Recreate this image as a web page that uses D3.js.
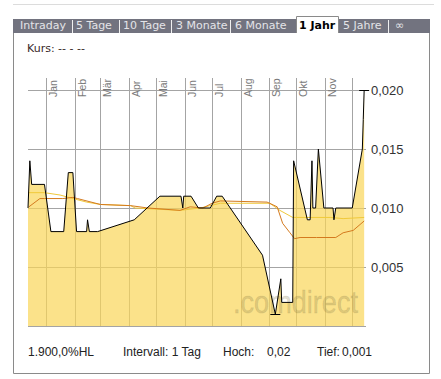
<!DOCTYPE html>
<html><head><meta charset="utf-8">
<script src="https://cdn.jsdelivr.net/npm/d3@7"></script>
<style>body{margin:0;background:#fff}svg{display:block}</style>
</head><body>
<svg id="c" width="441" height="379"></svg>
<script>
// ---- data ----
const tabLabels = ["Intraday","5 Tage","10 Tage","3 Monate","6 Monate","1 Jahr","5 Jahre","\u221E"];
const selectedTab = "1 Jahr";
const monthLabels = ["Jan","Feb","M\u00E4r","Apr","Mai","Jun","Jul","Aug","Sep","Okt","Nov",""];
const yTicks = [0.005, 0.010, 0.015, 0.020];
const dateDomain = ["2006-12-12","2007-12-16"];
const priceDates = ["2006-12-12","2006-12-14","2006-12-16","2006-12-30","2007-01-06","2007-01-20","2007-01-25","2007-01-30","2007-02-03","2007-02-14","2007-02-15","2007-02-17","2007-02-26","2007-04-07","2007-05-05","2007-05-28","2007-05-30","2007-05-31","2007-06-08","2007-06-16","2007-06-29","2007-07-06","2007-07-12","2007-08-25","2007-09-08","2007-09-14","2007-09-15","2007-09-27","2007-09-28","2007-10-13","2007-10-16","2007-10-18","2007-10-19","2007-10-22","2007-10-25","2007-10-31","2007-11-10","2007-11-11","2007-11-13","2007-12-01","2007-12-12","2007-12-13","2007-12-14"];
const priceValues = [0.010,0.014,0.012,0.012,0.008,0.008,0.013,0.013,0.008,0.008,0.009,0.008,0.008,0.009,0.011,0.011,0.010,0.011,0.011,0.010,0.010,0.011,0.011,0.006,0.001,0.004,0.002,0.002,0.014,0.009,0.009,0.014,0.010,0.010,0.015,0.010,0.010,0.009,0.010,0.010,0.015,0.0175,0.020];
const maLongDates = ["2006-12-12","2006-12-30","2007-01-16","2007-01-30","2007-02-14","2007-03-01","2007-04-03","2007-04-08","2007-05-27","2007-06-18","2007-07-10","2007-09-02","2007-09-13","2007-09-27","2007-11-07","2007-11-21","2007-12-14"];
const maLongValues = [0.0113,0.0113,0.0111,0.0108,0.0105,0.0103,0.0102,0.0100,0.0098,0.0100,0.0104,0.0104,0.0098,0.0092,0.0092,0.0091,0.0092];
const maShortDates = ["2006-12-13","2006-12-25","2006-12-30","2007-01-19","2007-01-30","2007-02-04","2007-03-01","2007-04-03","2007-04-22","2007-05-27","2007-06-07","2007-06-21","2007-07-01","2007-07-10","2007-08-30","2007-09-10","2007-09-16","2007-09-24","2007-09-29","2007-10-05","2007-10-23","2007-11-13","2007-11-21","2007-12-02","2007-12-14"];
const maShortValues = [0.0101,0.0108,0.0108,0.0108,0.0109,0.0108,0.0103,0.0102,0.0100,0.0098,0.0101,0.0100,0.0104,0.0106,0.0105,0.0101,0.0087,0.0079,0.0074,0.0075,0.0075,0.0075,0.0079,0.0081,0.0089];
const kursText = "Kurs: -- - --";
const footerTexts = ["1.900,0%HL","Intervall: 1 Tag","Hoch:","0,02","Tief:","0,001"];
const watermark = ".comdirect";

// ---- drawing ----
const svg = d3.select("#c");
const parse = d3.timeParse("%Y-%m-%d");
const de = d3.formatLocale({decimal:",",thousands:".",grouping:[3],currency:["","\u20AC"]});
const fmt = de.format(".3f");

const x = d3.scaleTime().domain(dateDomain.map(parse)).range([28, 366]);
const y = d3.scaleLinear().domain([0, 0.020]).range([326, 90]);

const price = priceDates.map((d,i)=>({d:parse(d), v:priceValues[i]}));
const maL = maLongDates.map((d,i)=>({d:parse(d), v:maLongValues[i]}));
const maS = maShortDates.map((d,i)=>({d:parse(d), v:maShortValues[i]}));

svg.append("rect").attr("width",441).attr("height",379).attr("fill","#fff");
svg.append("line").attr("x1",13).attr("x2",434).attr("y1",4.5).attr("y2",4.5).attr("stroke","#dcdcdc");

// tab bar
svg.append("rect").attr("x",13).attr("y",19).attr("width",417).attr("height",14).attr("fill","#72737f");
const tabStarts = [20,76,123,176,235,299,343,395];
const seps = [72,119,171,230,296,338,388];
seps.forEach(s=>{
  svg.append("line").attr("x1",s+0.5).attr("x2",s+0.5).attr("y1",20).attr("y2",33).attr("stroke","#f0f0f0");
});
const selIdx = tabLabels.indexOf(selectedTab);
svg.append("path").attr("d",`M${seps[selIdx-1]+0.5},33V16.5H${seps[selIdx]+0.5}V33`)
  .attr("fill","#fff").attr("stroke","#8a8a8a");
tabLabels.forEach((t,i)=>{
  svg.append("text").attr("x",tabStarts[i]).attr("y",29)
    .attr("font-family","DejaVu Sans, Verdana, sans-serif").attr("font-size",11)
    .attr("font-weight", i===selIdx ? "bold":"normal")
    .attr("fill", i===selIdx ? "#000":"#e4e4e8").text(t);
});

// frame
svg.append("path").attr("d","M13.5,33V373.5H429.5V33").attr("fill","none").attr("stroke","#8a8a8a");

svg.append("text").attr("x",27).attr("y",52).attr("font-family","DejaVu Sans, Verdana, sans-serif")
  .attr("font-size",11).attr("fill","#3a2a2a").attr("xml:space","preserve").text(kursText);

// gridlines
const months = x.ticks(d3.timeMonth.every(1));
const grid = svg.append("g").attr("stroke","#a4a4a4").attr("stroke-width",1);
months.forEach(m=>{
  const px = Math.round(x(m))+0.5;
  grid.append("line").attr("x1",px).attr("x2",px).attr("y1",78).attr("y2",326);
});
[0].concat(yTicks).forEach(v=>{
  const py = Math.round(y(v))+0.5;
  grid.append("line").attr("x1",28).attr("x2",366).attr("y1",py).attr("y2",py);
});

// area
const area = d3.area().x(d=>x(d.d)).y0(y(0)).y1(d=>y(d.v));
svg.append("path").datum(price).attr("d",area).attr("fill","rgb(250,213,88)").attr("fill-opacity",0.7);

// watermark
svg.append("text").attr("x",233).attr("y",313).attr("font-family","Liberation Sans, Arial, sans-serif")
  .attr("font-size",32).attr("textLength",125).attr("lengthAdjust","spacingAndGlyphs")
  .attr("stroke","rgb(120,110,60)").attr("stroke-opacity",0.12).attr("stroke-width",1)
  .attr("fill","rgb(120,110,60)").attr("fill-opacity",0.24).text(watermark);

// moving averages
const line = d3.line().x(d=>x(d.d)).y(d=>y(d.v));
svg.append("path").datum(maL).attr("d",line).attr("fill","none").attr("stroke","#f0c93a").attr("stroke-width",1);
svg.append("path").datum(maS).attr("d",line).attr("fill","none").attr("stroke","#d47a1e").attr("stroke-width",1);
svg.append("path").datum(price).attr("d",line).attr("fill","none").attr("stroke","#000").attr("stroke-width",1);

// hi / lo markers
const hi = price[d3.maxIndex(price,d=>d.v)], lo = price[d3.minIndex(price,d=>d.v)];
[hi,lo].forEach(p=>{
  svg.append("line").attr("x1",x(p.d)-5).attr("x2",x(p.d)+5)
    .attr("y1",Math.round(y(p.v))+0.5).attr("y2",Math.round(y(p.v))+0.5).attr("stroke","#000");
});

// month labels
months.forEach((m,i)=>{
  const px = Math.round(x(m))+0.5;
  svg.append("text").attr("transform",`translate(${px+10},97) rotate(-90)`)
    .attr("font-family","Liberation Sans, Arial, sans-serif").attr("font-size",10.5)
    .attr("fill","#7a7a7a").text(monthLabels[i]);
});

// y axis
const yAxis = d3.axisRight(y).tickValues(yTicks).tickSize(0).tickPadding(3).tickFormat(fmt);
const ga = svg.append("g").attr("transform","translate(368,0)").call(yAxis);
ga.select(".domain").remove();
ga.selectAll("text").attr("font-family","Liberation Sans, Arial, sans-serif").attr("font-size",13).attr("fill","#333");

// footer
const footX = [28,123,223,267,317,342];
footerTexts.forEach((t,i)=>{
  svg.append("text").attr("x",footX[i]).attr("y",356).attr("font-family","Liberation Sans, Arial, sans-serif")
    .attr("font-size",12).attr("fill","#222").text(t);
});
</script>
</body></html>
